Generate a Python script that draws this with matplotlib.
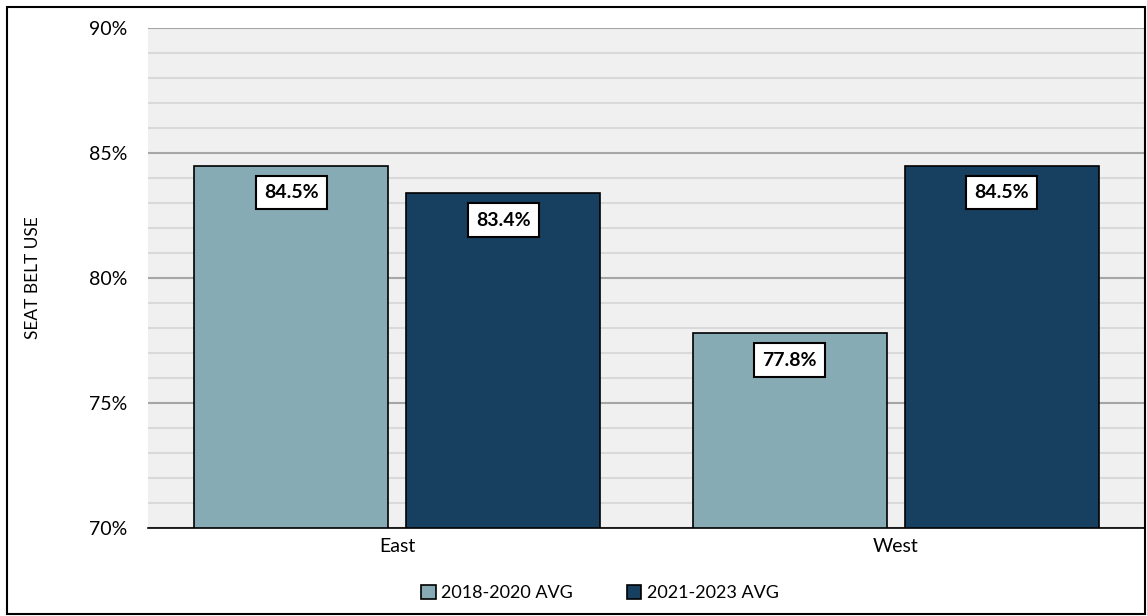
import numpy as np
import matplotlib.pyplot as plt
from matplotlib.patches import Rectangle
from matplotlib.ticker import MultipleLocator, FuncFormatter

plt.rcParams['font.family'] = ['Lato', 'DejaVu Sans']

# Data
regions = ['East', 'West']
series_names = ['2018-2020 AVG', '2021-2023 AVG']
avg_2018_2020 = [84.5, 77.8]
avg_2021_2023 = [83.4, 84.5]
colors = ['#86abb5', '#163f60']

fig = plt.figure(figsize=(11.47, 6.16), dpi=100)
ax = fig.add_axes([148 / 1147, 1 - 528 / 616, 997 / 1147, 500 / 616])

x = np.arange(len(regions))
width = 0.389
offset = 0.213

for vals, off, col, name in zip([avg_2018_2020, avg_2021_2023], [-offset, offset],
                                colors, series_names):
    bars = ax.bar(x + off, vals, width, color=col, edgecolor='black',
                  linewidth=1.2, label=name, zorder=3)
    for b, v in zip(bars, vals):
        ax.annotate(f'{v:.1f}%', (b.get_x() + b.get_width() / 2, v),
                    xytext=(0, -19.5), textcoords='offset points',
                    ha='center', va='center', fontsize=14, fontweight='bold',
                    bbox=dict(boxstyle='square,pad=0.42', fc='white',
                              ec='black', lw=1.5), zorder=5)

ax.set_xlim(-0.5, 1.5)
ax.set_ylim(70, 90)
ax.set_facecolor('#f0f0f0')
ax.yaxis.set_major_locator(MultipleLocator(5))
ax.yaxis.set_minor_locator(MultipleLocator(1))
ax.yaxis.set_major_formatter(FuncFormatter(lambda v, p: f'{v:.0f}%'))
ax.grid(axis='y', which='minor', color='#d9d9d9', linewidth=1.5, zorder=0)
ax.grid(axis='y', which='major', color='#a6a6a6', linewidth=1.5, zorder=1)
ax.set_axisbelow(True)

ax.set_xticks(x)
ax.set_xticklabels(regions)
ax.tick_params(axis='both', which='both', length=0, labelsize=14)
ax.tick_params(axis='y', pad=15)
ax.tick_params(axis='x', pad=7)
for s in ['top', 'right', 'left']:
    ax.spines[s].set_visible(False)
ax.spines['bottom'].set_color('black')
ax.spines['bottom'].set_linewidth(1.2)
ax.spines['bottom'].set_zorder(4)

fig.text(33 / 1147, 1 - 278 / 616, 'SEAT BELT USE', rotation=90,
         ha='center', va='center', fontsize=12.5)

leg = fig.legend(loc='center', bbox_to_anchor=(600 / 1147, 1 - 593 / 616), ncol=2,
                 frameon=False, fontsize=13, handlelength=0.8, handleheight=0.8,
                 handletextpad=0.3, columnspacing=3.0)

fig.patches.append(Rectangle((7 / 1147, 2 / 616), 1138 / 1147, 607 / 616,
                             transform=fig.transFigure, fill=False,
                             ec='black', lw=1.5))

fig.savefig('out.png', dpi=100)
